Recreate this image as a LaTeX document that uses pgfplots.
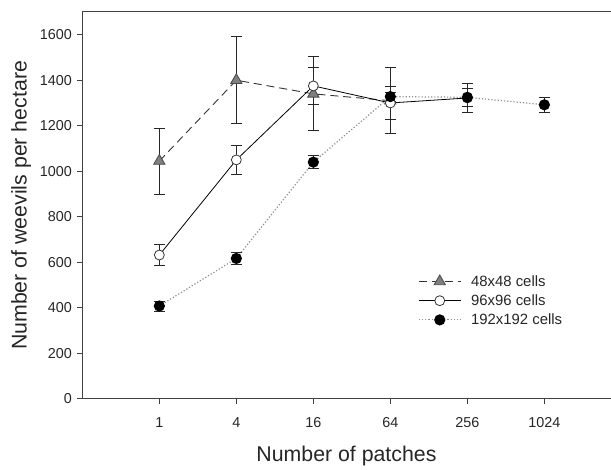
\documentclass[border=0pt]{standalone}
\usepackage{fontspec}
\setmainfont{Liberation Sans}
\usepackage{pgfplots}
\pgfplotsset{compat=1.18}
\begin{document}
\begin{tikzpicture}
\begin{axis}[
  scale only axis,
  width=531bp, height=389bp,
  xmin=-1, xmax=5.86, ymin=0, ymax=1700,
  axis x line*=bottom, axis y line*=left,
  axis line style={line width=0.9bp, black!75},
  xtick={0,1,2,3,4,5}, xticklabels={1,4,16,64,256,1024},
  ytick={0,200,...,1600},
  tick align=outside, major tick length=5bp,
  tick style={line width=0.8bp, black!75},
  /pgf/number format/assume math mode=true,
  /pgf/number format/1000 sep={},
  ticklabel style={font=\fontsize{14.5}{17}\selectfont, black!85},
  xticklabel style={yshift=-10bp},
  yticklabel style={xshift=-2bp},
  xlabel={Number of patches},
  ylabel={Number of weevils per hectare},
  label style={font=\fontsize{21.5}{24}\selectfont, black!85},
  xlabel style={yshift=-12bp},
  ylabel style={yshift=2bp},
  legend style={draw=none, fill=none, at={(rel axis cs:0.63,0.33)}, anchor=north west,
    font=\fontsize{15}{18}\selectfont, row sep=3bp, text=black!85},
  legend cell align=left,
  legend image code/.code={\draw[mark repeat=2,mark phase=2,#1] plot coordinates {(0bp,0bp)(21bp,0bp)(42bp,0bp)}; \path (50bp,0bp);},
  clip=false,
]
\addplot[black!80, line width=0.9bp, dash pattern=on 8bp off 5bp,
  mark=triangle*, mark size=6.5bp, mark options={solid, fill=black!50, draw=black!70},
  error bars/.cd, y dir=both, y explicit,
  error bar style={solid, line width=1bp, black!85},
  error mark options={rotate=90, mark size=5.5bp, line width=1bp, black!85}]
  table[x=x, y=y, y error=e] {
x y e
0 1045 145
1 1400 190
2 1340 163
3 1310 145
};
\addlegendentry{48x48 cells}
\addplot[black, line width=0.8bp,
  mark=*, mark size=5bp, mark options={fill=white, draw=black!80, line width=0.8bp},
  error bars/.cd, y dir=both, y explicit,
  error bar style={line width=1bp, black!85},
  error mark options={rotate=90, mark size=5.5bp, line width=1bp, black!85}]
  table[x=x, y=y, y error=e] {
x y e
0 632 48
1 1050 65
2 1375 80
3 1300 73
4 1322 65
};
\addlegendentry{96x96 cells}
\addplot[black!45, line width=1.2bp, dotted,
  mark=*, mark size=5bp, mark options={solid, fill=black, draw=black},
  error bars/.cd, y dir=both, y explicit,
  error bar style={solid, line width=1bp, black!85},
  error mark options={solid, rotate=90, mark size=5.5bp, line width=1bp, black!85}]
  table[x=x, y=y, y error=e] {
x y e
0 408 22
1 617 28
2 1040 30
3 1328 20
4 1325 40
5 1292 33
};
\addlegendentry{192x192 cells}
\draw[line width=0.9bp, black!75] (rel axis cs:0,1) -- (rel axis cs:1,1);
\end{axis}
\path ([yshift=12bp]current axis.north);
\path ([xshift=-8bp]current bounding box.west);
\end{tikzpicture}
\end{document}
